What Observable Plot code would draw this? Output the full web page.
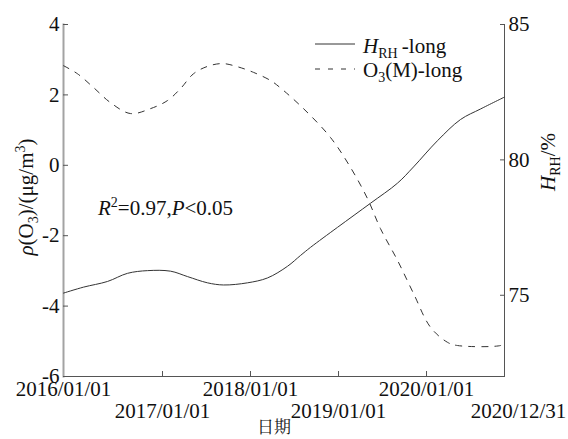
<!DOCTYPE html>
<html>
<head>
<meta charset="utf-8">
<script src="https://cdn.jsdelivr.net/npm/d3@7"></script>
<script src="https://cdn.jsdelivr.net/npm/@observablehq/plot@0.6"></script>
<style>
  html, body { margin: 0; padding: 0; background: #fff; }
  #chart svg { display: block; }
</style>
</head>
<body>
<div id="chart"></div>
<script>
// ---- data (decimal years on x) ----
const xDomain = [2015.875, 2020.886];
const o3Domain = [-6, 4];
const rhDomain = [72, 85];

const o3Year = [2015.875, 2016.034, 2016.216, 2016.409, 2016.636, 2016.864, 2017.057, 2017.205, 2017.352, 2017.511, 2017.682, 2017.852, 2018.034, 2018.227, 2018.33, 2018.602, 2018.909, 2019.136, 2019.330, 2019.477, 2019.670, 2019.852, 2020.045, 2020.239, 2020.352, 2020.841, 2020.886];
const o3Value = [2.83, 2.6, 2.21, 1.78, 1.47, 1.61, 1.84, 2.18, 2.6, 2.81, 2.89, 2.8, 2.64, 2.41, 2.22, 1.61, 0.79, -0.06, -0.95, -1.8, -2.7, -3.64, -4.6, -5.03, -5.12, -5.12, -5.06];

const rhYear = [2015.875, 2016.102, 2016.375, 2016.602, 2016.830, 2017.091, 2017.284, 2017.511, 2017.693, 2017.966, 2018.193, 2018.420, 2018.568, 2018.682, 2018.989, 2019.364, 2019.670, 2019.852, 2020.125, 2020.386, 2020.614, 2020.886];
const rhValue = [75.08, 75.30, 75.51, 75.81, 75.91, 75.89, 75.69, 75.46, 75.38, 75.46, 75.64, 76.07, 76.47, 76.77, 77.51, 78.40, 79.14, 79.74, 80.71, 81.49, 81.88, 82.32];

const o3Ticks = [4, 2, 0, -2, -4, -6];
const rhTicks = [75, 80, 85];
const xTickPos = [2017, 2018, 2019, 2020];
const xRow1Pos = [2015.875, 2018, 2020];
const xRow1Labels = ["2016/01/01", "2018/01/01", "2020/01/01"];
const xRow2Pos = [2017, 2019];
const xRow2Labels = ["2017/01/01", "2019/01/01"];
const xEndPos = [2020.886];
const xEndLabels = ["2020/12/31"];

// ---- build ----
const o3Data = o3Year.map((year, i) => ({year, value: o3Value[i]}));
const rhData = rhYear.map((year, i) => ({year, value: rhValue[i]}));
const rhToLeft = h => o3Domain[0] + (h - rhDomain[0]) / (rhDomain[1] - rhDomain[0]) * (o3Domain[1] - o3Domain[0]);
const leftToRh = v => rhDomain[0] + (v - o3Domain[0]) / (o3Domain[1] - o3Domain[0]) * (rhDomain[1] - rhDomain[0]);
const lab = (pos, labels) => { const m = new Map(pos.map((p, i) => [p, labels[i]])); return d => m.get(d); };

const FONT = "'Liberation Serif', 'Times New Roman', serif";
const axisColor = "#555";

const chart = Plot.plot({
  width: 568,
  height: 439,
  marginLeft: 63,
  marginRight: 64,
  marginTop: 24,
  marginBottom: 63,
  style: {fontFamily: FONT, fontSize: "21px", background: "white", color: "#111", overflow: "visible"},
  x: {type: "linear", domain: xDomain, axis: null},
  y: {domain: o3Domain, axis: null},
  marks: [
    Plot.frame({anchor: "bottom", stroke: axisColor}),
    Plot.frame({anchor: "right", stroke: axisColor}),
    Plot.frame({anchor: "left", stroke: "#a3a3a3", strokeWidth: 2}),
    // left axis
    Plot.axisY(o3Ticks, {anchor: "left", tickSize: -5, fill: "none", stroke: axisColor}),
    Plot.axisY(o3Ticks, {anchor: "left", tickSize: 0, tickPadding: 4, fontSize: 21, fill: "#111", tickFormat: d => String(d), label: null}),
    // right axis
    Plot.axisY(rhTicks.map(rhToLeft), {anchor: "right", tickSize: -5, fill: "none", stroke: axisColor}),
    Plot.axisY(rhTicks.map(rhToLeft), {anchor: "right", tickSize: 0, tickPadding: 4, fontSize: 21, fill: "#111", tickFormat: v => String(Math.round(leftToRh(v))), label: null}),
    // bottom axis
    Plot.axisX(xTickPos, {anchor: "bottom", tickSize: -5, fill: "none", stroke: axisColor}),
    Plot.axisX(xRow1Pos, {anchor: "bottom", tickSize: 0, tickPadding: 5, fontSize: 21, fill: "#111", tickFormat: lab(xRow1Pos, xRow1Labels), label: null}),
    Plot.axisX(xRow2Pos, {anchor: "bottom", tickSize: 0, tickPadding: 27, fontSize: 21, fill: "#111", tickFormat: lab(xRow2Pos, xRow2Labels), label: null}),
    Plot.axisX(xEndPos, {anchor: "bottom", tickSize: 0, tickPadding: 27, dx: 14, fontSize: 21, fill: "#111", tickFormat: lab(xEndPos, xEndLabels), label: null}),
    // series
    Plot.line(rhData, {x: "year", y: d => rhToLeft(d.value), curve: "catmull-rom", stroke: "#333", strokeWidth: 1}),
    Plot.line(o3Data, {x: "year", y: "value", curve: "catmull-rom", stroke: "#333", strokeWidth: 1, strokeDasharray: "6,7"})
  ]
});

document.getElementById("chart").appendChild(chart);

// ---- rich text annotations ----
const svg = d3.select(chart);
function rich(x, y, parts, {anchor = "start", rotate = 0, size = 21, family = FONT} = {}) {
  const t = svg.append("text")
    .attr("transform", `translate(${x},${y}) rotate(${rotate})`)
    .attr("text-anchor", anchor)
    .attr("font-family", family)
    .attr("font-size", size)
    .attr("fill", "#111");
  let shift = 0;
  for (const p of parts) {
    const target = p.s === "sub" ? 5 : p.s === "sup" ? -8 : 0;
    const ts = t.append("tspan").text(p.t).attr("dy", target - shift);
    shift = target;
    if (p.i) ts.attr("font-style", "italic");
    if (p.s) ts.attr("font-size", 14);
  }
  return t;
}

// legend
const lg = svg.append("g");
lg.append("line").attr("x1", 315).attr("x2", 355).attr("y1", 44).attr("y2", 44).attr("stroke", "#333");
lg.append("line").attr("x1", 315).attr("x2", 355).attr("y1", 69).attr("y2", 69).attr("stroke", "#333").attr("stroke-dasharray", "5,8");
rich(363, 53, [{t: "H", i: true}, {t: "RH", s: "sub"}, {t: "\u2009-long"}]);
rich(363, 77, [{t: "O"}, {t: "3", s: "sub"}, {t: "(M)-long"}]);

// R2 annotation
rich(98, 215, [{t: "R", i: true}, {t: "2", s: "sup"}, {t: "=0.97,"}, {t: "P", i: true}, {t: "<0.05"}]);

// axis titles
rich(33, 197, [{t: "\u03c1", i: true}, {t: "(O"}, {t: "3", s: "sub"}, {t: ")/(\u03bcg/m"}, {t: "3", s: "sup"}, {t: ")"}], {anchor: "middle", rotate: -90});
rich(555, 162, [{t: "H", i: true}, {t: "RH", s: "sub"}, {t: "/%"}], {anchor: "middle", rotate: -90});
rich(274, 433, [{t: "日期"}], {anchor: "middle", size: 17, family: "'Noto Serif CJK SC', 'Noto Sans CJK SC', sans-serif"});
</script>
</body>
</html>
